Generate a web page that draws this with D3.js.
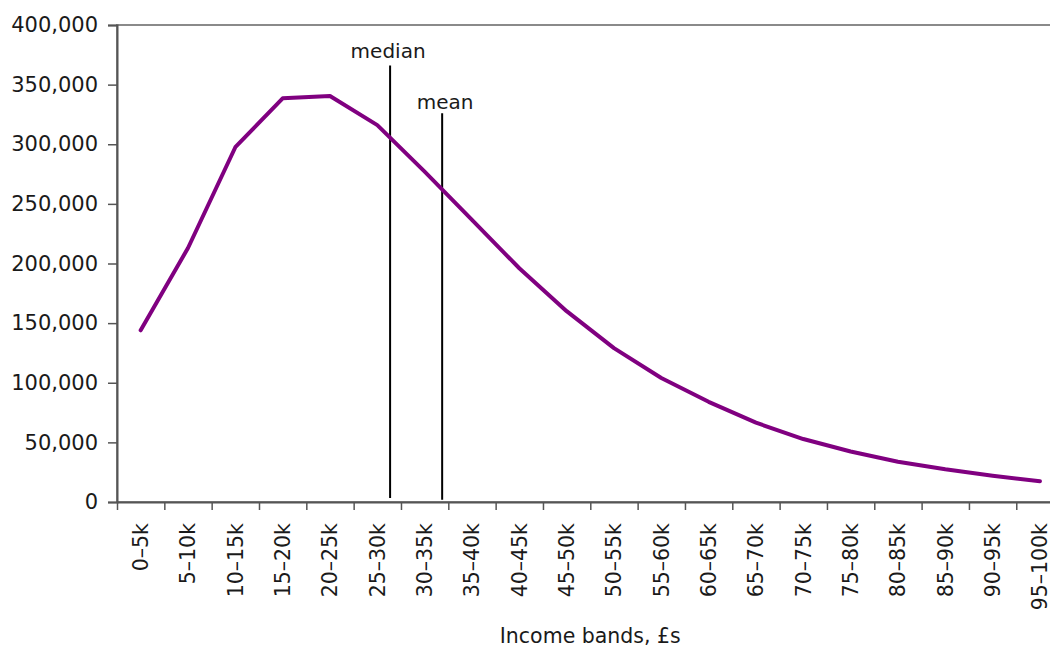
<!DOCTYPE html>
<html>
<head>
<meta charset="utf-8">
<script src="https://cdn.jsdelivr.net/npm/d3@7"></script>
<style>
  body { margin: 0; background: #fff; }
  text { font-family: "DejaVu Sans", sans-serif; fill: #1a1a1a; }
</style>
</head>
<body>
<svg id="chart"></svg>
<script>
// income bands (£k) and number of people in each band
const bands = ['0–5k', '5–10k', '10–15k', '15–20k', '20–25k', '25–30k', '30–35k', '35–40k', '40–45k', '45–50k',
    '50–55k', '55–60k', '60–65k', '65–70k', '70–75k', '75–80k', '80–85k', '85–90k', '90–95k', '95–100k'];
const people = [144000, 213000, 297500, 338500, 340500, 316000, 277000, 236500, 196000, 160000,
    129000, 104000, 84000, 66500, 52800, 42300, 33800, 27400, 22100, 17400];

// median / mean markers: income in £k and height of the line
const markerNames = ['median', 'mean'];
const markerIncome = [28.85, 34.35];
const markerTop = [366000, 326000];
const markerBottom = [3400, 1800];

const yTicks = [0, 50000, 100000, 150000, 200000, 250000, 300000, 350000, 400000];
const incomeTicks = d3.range(0, 105, 5);

const width = 1050;
const height = 649;
const margin = { left: 117, top: 25 };
const chartwidth = 946.6;
const chartheight = 477;

const svg = d3.select('#chart')
    .attr('width', width)
    .attr('height', height);

const g = svg.append('g')
    .attr('transform', `translate(${[margin.left, margin.top]})`);

const x = d3.scaleBand().domain(bands).range([0, chartwidth]);
const xIncome = d3.scaleLinear().domain([0, 100]).range([0, chartwidth]);
const y = d3.scaleLinear().domain([0, 400000]).range([chartheight, 0]);

// plot frame
g.append('rect')
    .attr('x', 0)
    .attr('y', 0)
    .attr('width', chartwidth)
    .attr('height', chartheight)
    .attr('fill', 'none')
    .attr('stroke', '#8a8a8a')
    .attr('stroke-width', 2);

// y axis
const yAxis = g.append('g')
    .call(d3.axisLeft(y).tickValues(yTicks).tickFormat(d3.format(',')).tickSize(9).tickPadding(10));
yAxis.select('.domain').attr('stroke', '#555').attr('stroke-width', 2);
yAxis.selectAll('.tick line').attr('stroke', '#555').attr('stroke-width', 1.5);
yAxis.selectAll('text').attr('font-size', 21).attr('fill', '#1a1a1a');

// x axis: ticks at band edges
const xAxis = g.append('g')
    .attr('transform', `translate(0, ${chartheight})`)
    .call(d3.axisBottom(xIncome).tickValues(incomeTicks).tickFormat('').tickSize(8).tickSizeOuter(0));
xAxis.select('.domain').attr('stroke', '#555').attr('stroke-width', 2);
xAxis.selectAll('.tick line').attr('stroke', '#555').attr('stroke-width', 1.5);

// x labels, rotated
const xLabels = g.append('g')
    .attr('transform', `translate(0, ${chartheight})`)
    .call(d3.axisBottom(x).tickSize(0));
xLabels.select('.domain').remove();
xLabels.selectAll('text')
    .attr('font-size', 20.5)
    .attr('fill', '#1a1a1a')
    .attr('text-anchor', 'end')
    .attr('transform', 'rotate(-90)')
    .attr('x', -21)
    .attr('y', 0)
    .attr('dy', '0.36em');

g.append('text')
    .attr('x', chartwidth / 2)
    .attr('y', 618)
    .attr('text-anchor', 'middle')
    .attr('font-size', 20.5)
    .text('Income bands, £s');

// median and mean
const markers = markerNames.map((name, i) => ({
    name: name,
    income: markerIncome[i],
    top: markerTop[i],
    bottom: markerBottom[i]
}));

g.selectAll('.marker')
    .data(markers)
    .join('line')
    .attr('class', 'marker')
    .attr('stroke', '#000')
    .attr('stroke-width', 2)
    .attr('x1', d => xIncome(d.income))
    .attr('x2', d => xIncome(d.income))
    .attr('y1', d => y(d.bottom))
    .attr('y2', d => y(d.top));

g.selectAll('.marker-label')
    .data(markers)
    .join('text')
    .attr('class', 'marker-label')
    .attr('text-anchor', 'middle')
    .attr('font-size', 20)
    .attr('x', (d, i) => xIncome(d.income) + (i === 0 ? -2 : 3))
    .attr('y', (d, i) => y(d.top) - (i === 0 ? 8 : 4))
    .text(d => d.name);

// distribution line
const line = d3.line()
    .x((d, i) => x(bands[i]) + x.bandwidth() / 2)
    .y(d => y(d));

g.append('path')
    .datum(people)
    .attr('fill', 'none')
    .attr('stroke', '#800080')
    .attr('stroke-width', 4)
    .attr('stroke-linejoin', 'round')
    .attr('stroke-linecap', 'round')
    .attr('d', line);
</script>
</body>
</html>
